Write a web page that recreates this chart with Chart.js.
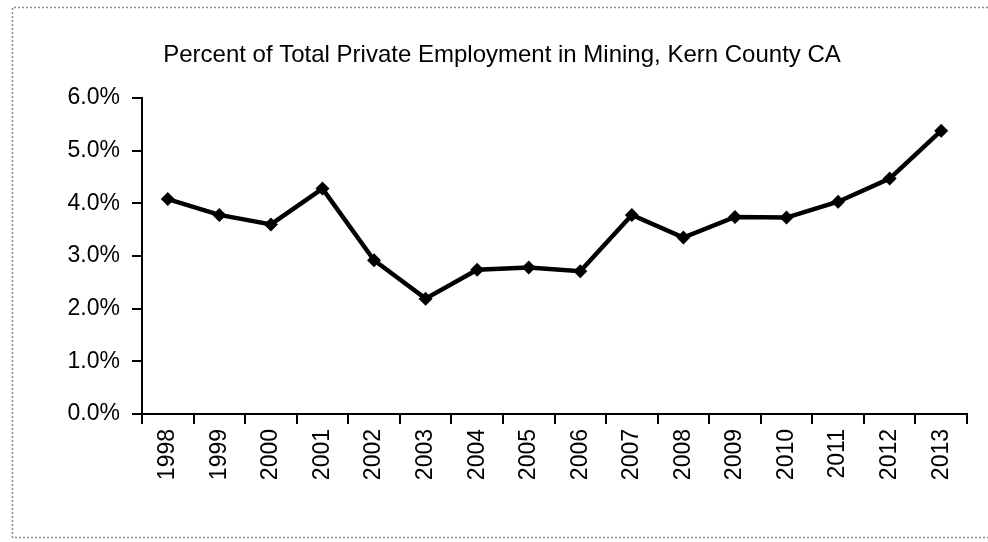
<!DOCTYPE html>
<html>
<head>
<meta charset="utf-8">
<script src="https://cdn.jsdelivr.net/npm/chart.js@4"></script>
<style>
  html, body { margin: 0; padding: 0; background: #fff; }
  #wrap { width: 988px; height: 542px; position: relative; }
</style>
</head>
<body>
<div id="wrap"><canvas id="c" width="988" height="542"></canvas></div>
<script>
// Kern County mining employment share, by year
const years = ['1998','1999','2000','2001','2002','2003','2004','2005',
               '2006','2007','2008','2009','2010','2011','2012','2013'];
const miningShare = [4.08, 3.78, 3.60, 4.28, 2.92, 2.19, 2.74, 2.78,
                     2.71, 3.78, 3.35, 3.74, 3.73, 4.03, 4.47, 5.38];
const yTicks = [0, 1, 2, 3, 4, 5, 6];
const chartTitle = 'Percent of Total Private Employment in Mining, Kern County CA';

const FONT = '"Liberation Sans", Arial, sans-serif';

// Title and the dotted frame around the figure
const decor = {
  id: 'decor',
  afterDraw(chart) {
    const ctx = chart.ctx;
    ctx.save();
    ctx.strokeStyle = '#8a8a8a';
    ctx.lineWidth = 1.5;
    ctx.setLineDash([2, 2]);
    ctx.beginPath();
    ctx.moveTo(988, 7.5); ctx.lineTo(12.5, 7.5);
    ctx.lineTo(12.5, 537.5); ctx.lineTo(988, 537.5);
    ctx.stroke();
    ctx.setLineDash([]);
    ctx.fillStyle = '#000';
    ctx.font = '24px ' + FONT;
    ctx.textAlign = 'center';
    ctx.textBaseline = 'middle';
    ctx.fillText(chartTitle, 502, 55);
    ctx.restore();
  }
};

new Chart(document.getElementById('c'), {
  type: 'line',
  data: {
    labels: years,
    datasets: [{
      data: miningShare,
      borderColor: '#000',
      backgroundColor: '#000',
      borderWidth: 4.5,
      tension: 0,
      pointStyle: 'rectRot',
      pointRadius: 7,
      pointHoverRadius: 7,
      pointBorderWidth: 0
    }]
  },
  options: {
    responsive: false,
    animation: false,
    layout: { padding: { left: 0, top: 98, right: 21, bottom: 0 } },
    plugins: { legend: { display: false }, tooltip: { enabled: false } },
    scales: {
      x: {
        offset: true,
        afterFit(s) { s.height = 128; },
        grid: { offset: true, drawOnChartArea: false, tickLength: 10, color: '#000', lineWidth: 2 },
        border: { color: '#000', width: 2 },
        ticks: {
          color: '#000', font: { family: FONT, size: 23 },
          minRotation: 90, maxRotation: 90, padding: 5, autoSkip: false
        }
      },
      y: {
        min: 0, max: 6,
        afterFit(s) { s.width = 142; },
        afterBuildTicks(s) { s.ticks = yTicks.map(v => ({ value: v })); },
        grid: { drawOnChartArea: false, tickLength: 10, color: '#000', lineWidth: 2 },
        border: { color: '#000', width: 2 },
        ticks: {
          color: '#000', font: { family: FONT, size: 23 }, padding: 12,
          callback: v => v.toFixed(1) + '%'
        }
      }
    }
  },
  plugins: [decor]
});
</script>
</body>
</html>
